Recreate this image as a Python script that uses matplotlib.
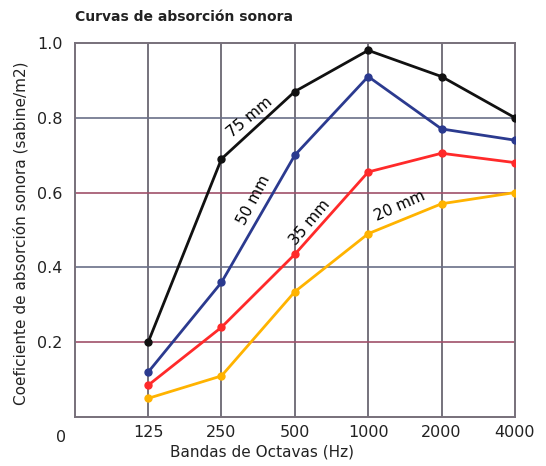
import matplotlib.pyplot as plt
import numpy as np

bandas = ["125", "250", "500", "1000", "2000", "4000"]
esp_75 = [0.20, 0.69, 0.87, 0.98, 0.91, 0.80]
esp_50 = [0.12, 0.36, 0.70, 0.91, 0.77, 0.74]
esp_35 = [0.085, 0.24, 0.435, 0.655, 0.705, 0.68]
esp_20 = [0.05, 0.11, 0.335, 0.49, 0.57, 0.60]
y_ticks = [0.2, 0.4, 0.6, 0.8, 1.0]
y_labels = ["0.2", "0.4", "0.6", "0.8", "1.0"]

plt.rcParams['font.family'] = ['DejaVu Sans']

fig = plt.figure(figsize=(5.46, 4.66), dpi=100)
ax = fig.add_axes([0.137, 0.105, 0.806, 0.803])

x = np.arange(1, len(bandas) + 1)

# grid by hand, the scan has tinted lines
for xi in x[:-1]:
    ax.axvline(xi, color='#5e5a66', lw=1.2, zorder=1)
grid_cols = ['#a0506a', '#6a7088', '#a0506a', '#6a7088']
for yv, c in zip(y_ticks[:-1], grid_cols):
    ax.axhline(yv, color=c, lw=1.2, zorder=1)

series = [(esp_75, '#111111'), (esp_50, '#2b3a8f'),
          (esp_35, '#ff2a2a'), (esp_20, '#ffb300')]
for vals, col in series:
    ax.plot(x, vals, color=col, lw=2.0, marker='o', ms=5, zorder=3)

ax.set_xlim(0, 6)
ax.set_ylim(0, 1.0)
ax.set_xticks(x)
ax.set_xticklabels(bandas)
ax.set_yticks(y_ticks)
ax.set_yticklabels(y_labels)
ax.tick_params(length=0, labelsize=11.5, colors='#222222')
ax.tick_params(axis='y', pad=9)
ax.tick_params(axis='x', pad=6)
for s in ax.spines.values():
    s.set_color('#77707a')
    s.set_linewidth(1.4)

ax.text(-0.02, -0.035, "0", transform=ax.transAxes, ha='right', va='top',
        fontsize=11.5, color='#222222')

ax.text(2.38, 0.80, "75 mm", rotation=40, fontsize=11, ha='center', va='center', zorder=4)
ax.text(2.44, 0.58, "50 mm", rotation=62, fontsize=11, ha='center', va='center', zorder=4)
ax.text(3.2, 0.52, "35 mm", rotation=50, fontsize=11, ha='center', va='center', zorder=4)
ax.text(4.43, 0.565, "20 mm", rotation=24, fontsize=11, ha='center', va='center', zorder=4)

fig.text(0.137, 0.963, "Curvas de absorción sonora", fontsize=10,
         fontweight='bold', ha='left', va='center', color='#222222')
fig.text(0.48, 0.03, "Bandas de Octavas (Hz)", fontsize=11, ha='center',
         va='center', color='#222222')
fig.text(0.038, 0.5, "Coeficiente de absorción sonora (sabine/m2)", fontsize=11,
         rotation=90, ha='center', va='center', color='#222222')

fig.savefig("out.png", dpi=100)
